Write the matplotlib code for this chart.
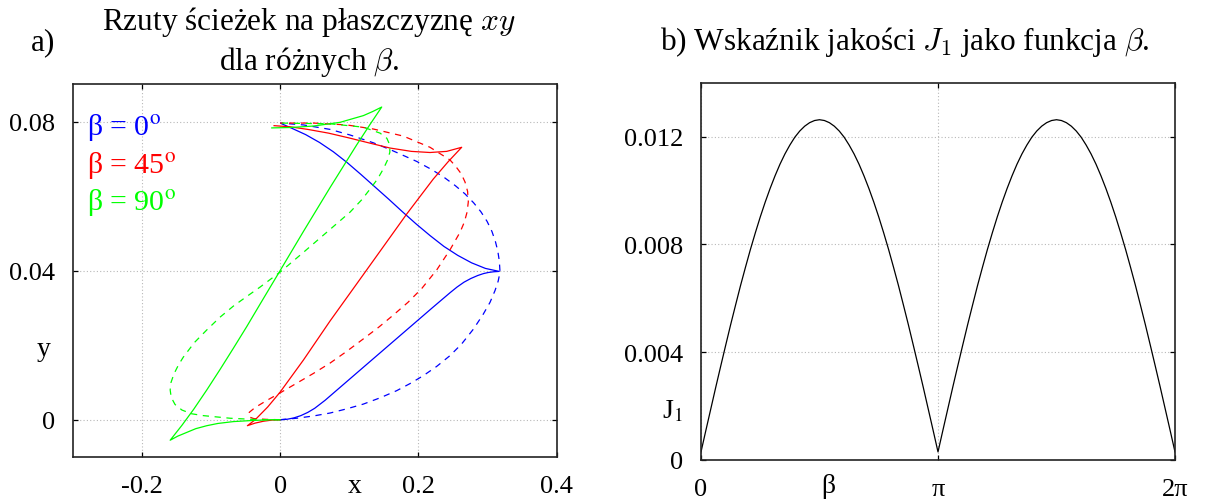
import matplotlib
matplotlib.use("Agg")
import matplotlib.pyplot as plt
import numpy as np

# ---------------- data ----------------
# (a) xy-projections of the paths, one pair (solid / dashed) per beta
blue_solid_x = [0.0, 0.01, 0.02, 0.03, 0.04, 0.05, 0.065, 0.08, 0.10, 0.12, 0.14, 0.16, 0.18, 0.20,
                0.22, 0.246, 0.256, 0.266, 0.276, 0.286, 0.294, 0.301, 0.309, 0.317,
                0.297, 0.277, 0.257, 0.237, 0.217, 0.197, 0.177, 0.157, 0.137, 0.117, 0.097,
                0.077, 0.057, 0.037, 0.017, 0.0025]
blue_solid_y = [0.0, 0.00012, 0.00049, 0.0011, 0.00196, 0.00306, 0.0052, 0.0076, 0.0108, 0.0140,
                0.0172, 0.0204, 0.0236, 0.0268, 0.0300, 0.0341, 0.0356, 0.0369, 0.0379, 0.0387,
                0.0392, 0.0395, 0.0397, 0.0398,
                0.0406, 0.0421, 0.0441, 0.0465, 0.0494, 0.0525, 0.0558, 0.0592, 0.0625, 0.0658,
                0.0690, 0.0719, 0.0744, 0.0765, 0.0782, 0.0794]
blue_dash_x = [0.0, 0.024, 0.048, 0.0723, 0.096, 0.1205, 0.145, 0.1687, 0.188, 0.207, 0.2265, 0.2458,
               0.2625, 0.2796, 0.2935, 0.3037, 0.311, 0.3155, 0.3175, 0.318,
               0.3172, 0.315, 0.3115, 0.3065, 0.2995, 0.2905, 0.280, 0.2675, 0.2535, 0.2375,
               0.2195, 0.1977, 0.176, 0.159, 0.135, 0.1012, 0.0723, 0.0337, 0.0]
blue_dash_y = [0.0, 0.0004, 0.0010, 0.0018, 0.0029, 0.0042, 0.0059, 0.0078, 0.0097, 0.0118, 0.0143,
               0.0172, 0.0203, 0.0243, 0.0282, 0.0315, 0.0347, 0.0372, 0.0390, 0.0400,
               0.0425, 0.0452, 0.0478, 0.0505, 0.0532, 0.0558, 0.0582, 0.0606, 0.0628, 0.0650,
               0.0671, 0.0693, 0.0711, 0.0725, 0.0743, 0.0764, 0.0779, 0.0791, 0.0796]

red_solid_x = [0.0, -0.012, -0.024, -0.036, -0.0473,
               -0.036, -0.018, 0.0, 0.0337, 0.0723, 0.111, 0.1446, 0.1832, 0.2217, 0.243, 0.2627,
               0.241, 0.2169, 0.19, 0.159, 0.1302, 0.10, 0.07, 0.04, 0.0145, -0.0087]
red_solid_y = [0.0, -0.0001, -0.0004, -0.0009, -0.0016,
               0.0, 0.0034, 0.0074, 0.0160, 0.0265, 0.0365, 0.0452, 0.0552, 0.0646, 0.0692, 0.0731,
               0.0720, 0.0717, 0.0720, 0.0729, 0.0742, 0.0756, 0.0769, 0.0779, 0.0786, 0.0789]
red_dash_x = [0.0, -0.02, -0.038, -0.0455, -0.0445, -0.036, -0.019, 0.0, 0.024, 0.048, 0.0723, 0.096,
              0.1205, 0.1425, 0.1639, 0.185, 0.2049, 0.2266, 0.2458, 0.2603, 0.2665, 0.2705, 0.2723,
              0.2712, 0.2675, 0.262, 0.254, 0.2458, 0.2169, 0.1783, 0.135, 0.0964, 0.0482, 0.0]
red_dash_y = [0.0, 0.0001, 0.0003, 0.0008, 0.0020, 0.0033, 0.0052, 0.0072, 0.0098, 0.0124, 0.0152,
              0.0183, 0.0217, 0.0248, 0.0281, 0.0315, 0.0352, 0.0402, 0.0456, 0.0503, 0.0530, 0.0557,
              0.0585, 0.0613, 0.0638, 0.0660, 0.0680, 0.0697, 0.0731, 0.0761, 0.0780, 0.0791,
              0.0796, 0.0796]

green_solid_x = [0.0, -0.0145, -0.04, -0.0675, -0.09, -0.106, -0.122, -0.135, -0.148, -0.159,
                 -0.142, -0.125, -0.106, -0.0868, -0.0675, -0.0482, -0.029, -0.0097, 0.0, 0.0337,
                 0.0723, 0.111, 0.13, 0.147, 0.134, 0.1205, 0.0868, 0.0482, 0.0145, -0.012]
green_solid_y = [0.0, 0.0, -0.0002, -0.0005, -0.0010, -0.0016, -0.0024, -0.0034, -0.0044, -0.0055,
                 -0.0015, 0.0028, 0.0080, 0.0135, 0.0192, 0.0250, 0.0310, 0.0370, 0.0400, 0.0505,
                 0.0623, 0.0738, 0.0792, 0.0839, 0.0827, 0.0816, 0.0798, 0.0788, 0.0784, 0.0783]
green_dash_x = [0.0, -0.029, -0.0723, -0.111, -0.128, -0.142, -0.152, -0.1575, -0.159, -0.1578,
                -0.1535, -0.147, -0.14, -0.124, -0.106, -0.087, -0.0675, -0.048, -0.0289, -0.0145,
                0.0, 0.0337, 0.0675, 0.1012, 0.118, 0.1302, 0.141, 0.1494, 0.1555, 0.1588, 0.1585,
                0.1545, 0.1446, 0.1205, 0.0723, 0.0]
green_dash_y = [0.0, 0.0, 0.0004, 0.0011, 0.0016, 0.0026, 0.0041, 0.0060, 0.0080, 0.0100,
                0.0123, 0.0147, 0.0168, 0.0207, 0.0241, 0.0275, 0.0305, 0.0331, 0.0356, 0.0376,
                0.0396, 0.0449, 0.0503, 0.0557, 0.0590, 0.0619, 0.0646, 0.0673, 0.0697, 0.0718,
                0.0738, 0.0755, 0.0769, 0.0785, 0.0794, 0.0796]

beta_labels = ["β = 0$^{\\mathrm{o}}$", "β = 45$^{\\mathrm{o}}$", "β = 90$^{\\mathrm{o}}$"]
beta_colors = ["#0000ff", "#ff0000", "#00ff00"]

# (b) quality index J1 sampled every pi/48 over [0, 2*pi]
beta_step = np.pi / 48
j1_values = [
    0.00030, 0.00111, 0.00191, 0.00271, 0.00349, 0.00426, 0.00502, 0.00575, 0.00647,
    0.00715, 0.00781, 0.00843, 0.00902, 0.00957, 0.01008, 0.01055, 0.01098, 0.01136,
    0.01169, 0.01198, 0.01221, 0.01239, 0.01252, 0.01260, 0.01263, 0.01260, 0.01252,
    0.01239, 0.01221, 0.01198, 0.01169, 0.01136, 0.01098, 0.01055, 0.01008, 0.00957,
    0.00902, 0.00843, 0.00781, 0.00715, 0.00647, 0.00575, 0.00502, 0.00426, 0.00349,
    0.00271, 0.00191, 0.00111, 0.00030,
    0.00111, 0.00191, 0.00271, 0.00349, 0.00426, 0.00502, 0.00575, 0.00647,
    0.00715, 0.00781, 0.00843, 0.00902, 0.00957, 0.01008, 0.01055, 0.01098, 0.01136,
    0.01169, 0.01198, 0.01221, 0.01239, 0.01252, 0.01260, 0.01263, 0.01260, 0.01252,
    0.01239, 0.01221, 0.01198, 0.01169, 0.01136, 0.01098, 0.01055, 0.01008, 0.00957,
    0.00902, 0.00843, 0.00781, 0.00715, 0.00647, 0.00575, 0.00502, 0.00426, 0.00349,
    0.00271, 0.00191, 0.00111, 0.00030]
beta_grid = np.arange(len(j1_values)) * beta_step

a_xticks = [-0.2, 0.0, 0.2, 0.4]
a_xticklabels = ["-0.2", "0", "0.2", "0.4"]
a_yticks = [0.0, 0.04, 0.08]
a_yticklabels = ["0", "0.04", "0.08"]
b_xticks = [0.0, np.pi, 2 * np.pi]
b_xticklabels = ["0", "π", "2π"]
b_yticks = [0.0, 0.004, 0.008, 0.012]
b_yticklabels = ["0", "0.004", "0.008", "0.012"]

# ---------------- style ----------------
plt.rcParams["font.family"] = ["Liberation Serif", "DejaVu Serif"]
plt.rcParams["mathtext.fontset"] = "stix"

W, H = 1205, 502
fig = plt.figure(figsize=(W / 100, H / 100), dpi=100)


def px_axes(x0, y0, x1, y1):
    return fig.add_axes([x0 / W, 1 - y1 / H, (x1 - x0) / W, (y1 - y0) / H])


def style_axes(ax):
    ax.tick_params(direction="in", length=3.6, width=0.9, top=True, right=True,
                   labelsize=19, pad=13, colors="black")
    for sp in ax.spines.values():
        sp.set_linewidth(1.2)
        sp.set_color("#222222")
    ax.grid(True, linestyle=(0, (1, 2)), color="#b8b8b8", linewidth=0.8)
    ax.set_axisbelow(True)


LW = 0.9
DASH = (0, (5, 4.5))

# ---------------- panel a ----------------
ax1 = px_axes(72.7, 85.3, 556.6, 458)
ax1.plot(blue_solid_x, blue_solid_y, color=beta_colors[0], lw=LW)
ax1.plot(blue_dash_x, blue_dash_y, color=beta_colors[0], lw=LW, linestyle=DASH)
ax1.plot(red_solid_x, red_solid_y, color=beta_colors[1], lw=LW)
ax1.plot(red_dash_x, red_dash_y, color=beta_colors[1], lw=LW, linestyle=DASH)
ax1.plot(green_solid_x, green_solid_y, color=beta_colors[2], lw=LW)
ax1.plot(green_dash_x, green_dash_y, color=beta_colors[2], lw=LW, linestyle=DASH)
ax1.set_xlim(-0.3, 0.4)
ax1.set_ylim(-0.01, 0.09)
ax1.set_xticks(a_xticks, a_xticklabels)
ax1.set_yticks(a_yticks, a_yticklabels)
style_axes(ax1)

for i, (lab, col) in enumerate(zip(beta_labels, beta_colors)):
    ax1.text(0.029, 0.8667 - i * 0.1011, lab, transform=ax1.transAxes, color=col,
             fontsize=21.5, ha="left", va="baseline")

# ---------------- panel b ----------------
ax2 = px_axes(701, 83.8, 1175, 461)
ax2.plot(beta_grid, j1_values, color="black", lw=LW)
ax2.set_xlim(0, 2 * np.pi)
ax2.set_ylim(0, 0.014)
ax2.set_xticks(b_xticks, b_xticklabels)
ax2.set_yticks(b_yticks, b_yticklabels)
style_axes(ax2)

# ---------------- axis labels ----------------
fig.text(44 / W, 1 - 350 / H, "y", fontsize=20, ha="center", va="center")
fig.text(355 / W, 1 - 487 / H, "x", fontsize=20, ha="center", va="center")
fig.text(828 / W, 1 - 487 / H, "β", fontsize=20, ha="center", va="center")
fig.text(672 / W, 1 - 412 / H, "J$_{\\mathrm{1}}$", fontsize=20, ha="center", va="center")

# ---------------- titles ----------------
TFAM = ["Liberation Serif", "DejaVu Serif"]
TSIZE = 22.5
fig.text(43 / W, 1 - 43 / H, "a)", family=TFAM, fontsize=TSIZE, ha="center", va="center")
fig.text(309 / W, 1 - 22 / H, "Rzuty ścieżek na płaszczyznę $xy$", family=TFAM,
         math_fontfamily="cm", fontsize=TSIZE, ha="center", va="center")
fig.text(309 / W, 1 - 62 / H, "dla różnych $\\beta$.", family=TFAM,
         math_fontfamily="cm", fontsize=TSIZE, ha="center", va="center")
fig.text(905 / W, 1 - 42 / H, "b) Wskaźnik jakości $J_1$ jako funkcja $\\beta$.", family=TFAM,
         math_fontfamily="cm", fontsize=TSIZE, ha="center", va="center")

fig.savefig("out.png", dpi=100)
